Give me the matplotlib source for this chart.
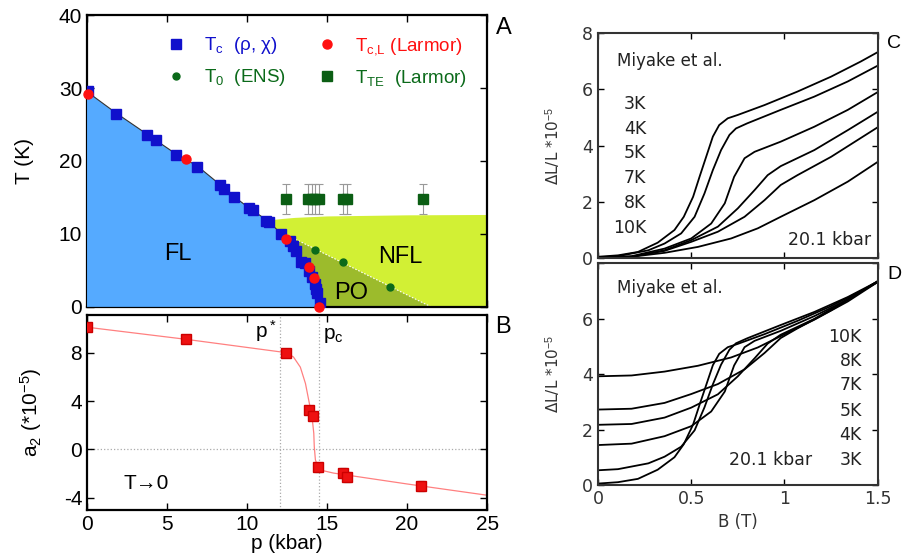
import matplotlib
matplotlib.use("Agg")
import matplotlib.pyplot as plt
import numpy as np

plt.rcParams["font.family"] = ["Liberation Sans", "DejaVu Sans"]
plt.rcParams["mathtext.fontset"] = "custom"
plt.rcParams["mathtext.rm"] = "Liberation Sans"
plt.rcParams["mathtext.it"] = "Liberation Sans"
plt.rcParams["axes.unicode_minus"] = False

# ---- panel A: phase diagram ----
tc_p = [0.04, 1.8, 3.77, 4.3, 5.56, 6.9, 8.33, 8.58, 9.2, 10.1, 10.4, 11.2, 11.4, 12.1,
        12.67, 12.9, 13.06, 13.4, 13.65, 13.9, 14.06, 14.27, 14.33, 14.4, 14.58]
tc_T = [29.6, 26.5, 23.5, 22.9, 20.8, 19.2, 16.65, 16.1, 15.1, 13.6, 13.3, 11.8, 11.6, 10.0,
        9.1, 8.35, 7.7, 6.2, 5.96, 4.95, 4.13, 3.1, 2.4, 1.9, 0.6]
tcl_p = [0.04, 6.2, 12.46, 13.85, 14.17, 14.48]
tcl_T = [29.2, 20.3, 9.36, 5.4, 4.0, 0.0]
t0_p = [14.25, 15.98, 18.96]
t0_T = [7.8, 6.2, 2.75]
tte_p = [12.46, 13.79, 14.04, 14.27, 14.52, 16.0, 16.25, 20.98]
tte_T = [14.8] * 8
tte_err = [2.0] * 8

# region boundaries
fl_p = [0, 1.8, 3.8, 5.6, 6.9, 8.4, 9.2, 10.1, 11.3, 12.1, 12.7, 13.1, 13.5, 13.85, 14.05, 14.2, 14.3, 14.35]
fl_T = [29.5, 26.6, 23.6, 20.9, 19.3, 16.6, 15.1, 13.6, 11.8, 10.1, 9.0, 7.7, 6.1, 4.8, 3.9, 2.8, 1.5, 0]
nfl_p = [11.6, 12.2, 13.0, 15.0, 20.0, 25.0, 25.0, 11.6]
nfl_T = [11.9, 12.05, 12.2, 12.4, 12.55, 12.6, 0, 0]
po_p = [12.1, 21.5, 12.1]
po_T = [10.3, 0, 0]

# ---- panel B: a2 vs p ----
a2_p = [0, 6.19, 12.44, 13.85, 14.12, 14.44, 16.0, 16.25, 20.9]
a2_v = [10.1, 9.1, 8.0, 3.3, 2.8, -1.48, -1.95, -2.27, -2.99]
a2_err = [0, 0, 0, 0, 0, 0.4, 0.4, 0.4, 0.4]
fit_p = [0, 6.19, 12.44, 12.9, 13.33, 13.65, 13.85, 14.06, 14.17, 14.2, 14.27, 14.48, 15.4, 20.0, 25.0]
fit_a = [10.1, 9.1, 8.0, 7.64, 6.8, 5.45, 4.1, 2.7, 1.34, 0.25, -0.85, -1.67, -1.95, -2.85, -3.78]
p_star = 12.04
p_c = 14.48

# ---- panels C, D: magnetostriction at 20.1 kbar ----
temps = ["3K", "4K", "5K", "7K", "8K", "10K"]
curves_B = [
    [0, 0.107, 0.214, 0.32, 0.41, 0.46, 0.51, 0.545, 0.58, 0.616, 0.65, 0.696, 0.75, 0.893, 1.07, 1.25, 1.41, 1.5],
    [0, 0.107, 0.27, 0.357, 0.446, 0.518, 0.571, 0.616, 0.66, 0.705, 0.74, 0.80, 0.98, 1.16, 1.34, 1.5],
    [0, 0.18, 0.357, 0.5, 0.607, 0.68, 0.73, 0.786, 0.84, 0.98, 1.16, 1.34, 1.5],
    [0, 0.18, 0.357, 0.5, 0.643, 0.75, 0.84, 0.91, 0.98, 1.16, 1.34, 1.5],
    [0, 0.18, 0.357, 0.5, 0.643, 0.786, 0.893, 0.98, 1.07, 1.25, 1.5],
    [0, 0.18, 0.357, 0.536, 0.714, 0.857, 0.98, 1.16, 1.34, 1.5],
]
curves_L = [
    [0.05, 0.1, 0.22, 0.55, 1.0, 1.47, 2.18, 2.9, 3.6, 4.32, 4.73, 4.97, 5.09, 5.44, 5.92, 6.45, 6.99, 7.32],
    [0.03, 0.07, 0.28, 0.52, 0.88, 1.47, 2.3, 3.13, 3.84, 4.38, 4.61, 4.79, 5.27, 5.74, 6.28, 6.84],
    [0.02, 0.07, 0.34, 0.7, 1.23, 1.95, 2.89, 3.55, 3.78, 4.14, 4.67, 5.27, 5.9],
    [0.02, 0.05, 0.28, 0.64, 1.12, 1.77, 2.42, 2.95, 3.27, 3.84, 4.55, 5.2],
    [0.02, 0.05, 0.26, 0.58, 0.94, 1.47, 2.06, 2.6, 2.95, 3.6, 4.65],
    [0.02, 0.05, 0.19, 0.4, 0.7, 1.06, 1.47, 2.06, 2.72, 3.42],
]
offsets_D = [0.0, 0.5, 1.42, 2.15, 2.7, 3.9]

blue_fill = "#55aaff"
nfl_fill = "#d2f034"
po_fill = "#9cbb2c"

fig = plt.figure(figsize=(9.02, 5.6), dpi=100)
axA = fig.add_axes([0.0965, 0.452, 0.4435, 0.521])
axB = fig.add_axes([0.0965, 0.0893, 0.4435, 0.348])
axC = fig.add_axes([0.663, 0.539, 0.310, 0.402])
axD = fig.add_axes([0.663, 0.134, 0.310, 0.396])

# A
axA.fill(nfl_p, nfl_T, color=nfl_fill, lw=0, zorder=1)
axA.fill(po_p, po_T, color=po_fill, lw=0, zorder=2)
axA.plot(po_p[:2], po_T[:2], ls=(0, (1.5, 1.5)), color="white", lw=0.8, zorder=2.5)
axA.fill(fl_p + [0], fl_T + [0], color=blue_fill, lw=0, zorder=3)
axA.plot(fl_p[:10], fl_T[:10], color="#333333", lw=0.8, zorder=3.5)
axA.errorbar(tte_p, tte_T, yerr=tte_err, fmt="none", ecolor="#999999", elinewidth=0.8,
             capsize=3, capthick=0.8, zorder=4)
axA.plot(tc_p, tc_T, "s", color="#1010cc", ms=7, zorder=5, label=r"T$_\mathregular{c}$  (ρ, χ)")
axA.plot(t0_p, t0_T, "o", color="#0b6a1a", ms=5, zorder=5, label=r"T$_\mathregular{0}$  (ENS)")
axA.plot(tcl_p, tcl_T, "o", color="#ff1010", ms=6.5, zorder=6, clip_on=False,
         label=r"T$_\mathregular{c{,}L}$ (Larmor)")
axA.plot(tte_p, tte_T, "s", color="#0b5e14", ms=7, zorder=5, label=r"T$_\mathregular{TE}$  (Larmor)")
leg = axA.legend(ncol=2, frameon=False, fontsize=13.5, loc="upper left",
                 bbox_to_anchor=(0.165, 0.976), handlelength=1.0, handletextpad=1.0,
                 columnspacing=1.7, labelspacing=0.6, borderaxespad=0.3,
                 labelcolor=["#1010cc", "#0b6a1a", "#ff1010", "#0b6a1a"])
axA.text(5.7, 7.3, "FL", fontsize=17, ha="center", va="center", zorder=7)
axA.text(19.6, 6.9, "NFL", fontsize=17, ha="center", va="center", zorder=7)
axA.text(16.5, 1.9, "PO", fontsize=17, ha="center", va="center", zorder=7)
axA.set_xlim(0, 25)
axA.set_ylim(0, 40)
axA.set_yticks([0, 10, 20, 30, 40])
axA.set_xticks([0, 5, 10, 15, 20, 25])
axA.tick_params(labelbottom=False)
axA.set_ylabel("T (K)", fontsize=15, labelpad=18)

# B
axB.axvline(p_star, color="#aaaaaa", ls=":", lw=0.9, zorder=1)
axB.axvline(p_c, color="#aaaaaa", ls=":", lw=0.9, zorder=1)
axB.axhline(0, color="#aaaaaa", ls=":", lw=0.9, zorder=1)
axB.plot(fit_p, fit_a, color="#ff8080", lw=0.9, zorder=2)
axB.errorbar(a2_p, a2_v, yerr=a2_err, fmt="none", ecolor="#aaaaaa", elinewidth=0.8,
             capsize=2, zorder=3)
axB.plot(a2_p, a2_v, "s", color="#ee1111", mec="#cc0000", ms=6.5, zorder=4)
axB.text(11.2, 9.75, r"p$^*$", fontsize=15, ha="center", va="center")
axB.text(15.4, 9.4, r"p$_\mathregular{c}$", fontsize=15, ha="center", va="center")
axB.text(3.7, -2.8, "T→0", fontsize=15, ha="center", va="center")
axB.set_xlim(0, 25)
axB.set_ylim(-5, 11.1)
axB.set_yticks([-4, 0, 4, 8])
axB.set_xticks([0, 5, 10, 15, 20, 25])
axB.set_xlabel("p (kbar)", fontsize=15, labelpad=0)
axB.set_ylabel(r"a$_\mathregular{2}$ (*10$^\mathregular{-5}$)", fontsize=15, labelpad=14)

for ax in (axA, axB):
    ax.tick_params(direction="in", top=True, right=True, length=5, width=1, labelsize=15)
    for s in ax.spines.values():
        s.set_linewidth(1.6)

# C and D
for B, L in zip(curves_B, curves_L):
    axC.plot(B, L, color="black", lw=1.3)
for B, L, off in zip(curves_B, curves_L, offsets_D):
    axD.plot(B, np.array(L) + off, color="black", lw=1.3)

cd_font = ["DejaVu Sans"]
axC.text(0.1, 7.0, "Miyake et al.", fontsize=12, family=cd_font, va="center", color="#222222")
axD.text(0.1, 7.1, "Miyake et al.", fontsize=12, family=cd_font, va="center", color="#222222")
c_lab_y = [5.48, 4.59, 3.74, 2.85, 1.96, 1.07]
d_lab_y = [0.9, 1.8, 2.67, 3.61, 4.48, 5.33]
for t, yc, yd in zip(temps, c_lab_y, d_lab_y):
    axC.text(0.26, yc, t, fontsize=12.5, family=cd_font, ha="right", va="center", color="#222222")
    axD.text(1.415, yd, t, fontsize=12.5, family=cd_font, ha="right", va="center", color="#222222")
axC.text(1.465, 0.64, "20.1 kbar", fontsize=12.5, family=cd_font, ha="right", va="center", color="#222222")
axD.text(1.15, 0.9, "20.1 kbar", fontsize=12.5, family=cd_font, ha="right", va="center", color="#222222")

for ax in (axC, axD):
    ax.set_xlim(0, 1.5)
    ax.set_ylim(0, 8)
    ax.set_xticks([0, 0.5, 1, 1.5])
    ax.set_xticklabels(["0", "0.5", "1", "1.5"])
    ax.tick_params(direction="in", top=True, right=True, length=4, width=1, labelsize=12.5,
                   labelcolor="#333333")
    for lbl in ax.get_xticklabels() + ax.get_yticklabels():
        lbl.set_family(cd_font)
    for s in ax.spines.values():
        s.set_linewidth(1.5)
        s.set_color("#333333")
    ax.set_ylabel(r"ΔL/L *10$^{-5}$", fontsize=11, family=cd_font, color="#333333", labelpad=14)
axC.set_yticks([0, 2, 4, 6, 8])
axC.tick_params(labelbottom=False)
axD.set_yticks([0, 2, 4, 6, 8])
axD.set_yticklabels(["0", "2", "4", "6", ""])
axD.set_xlabel("B (T)", fontsize=12, family=cd_font, color="#333333")

fig.text(0.55, 0.95, "A", fontsize=17, va="center")
fig.text(0.549, 0.416, "B", fontsize=17, va="center")
fig.text(0.983, 0.923, "C", fontsize=14, va="center")
fig.text(0.984, 0.509, "D", fontsize=14, va="center")

fig.savefig("out.png", dpi=100)
